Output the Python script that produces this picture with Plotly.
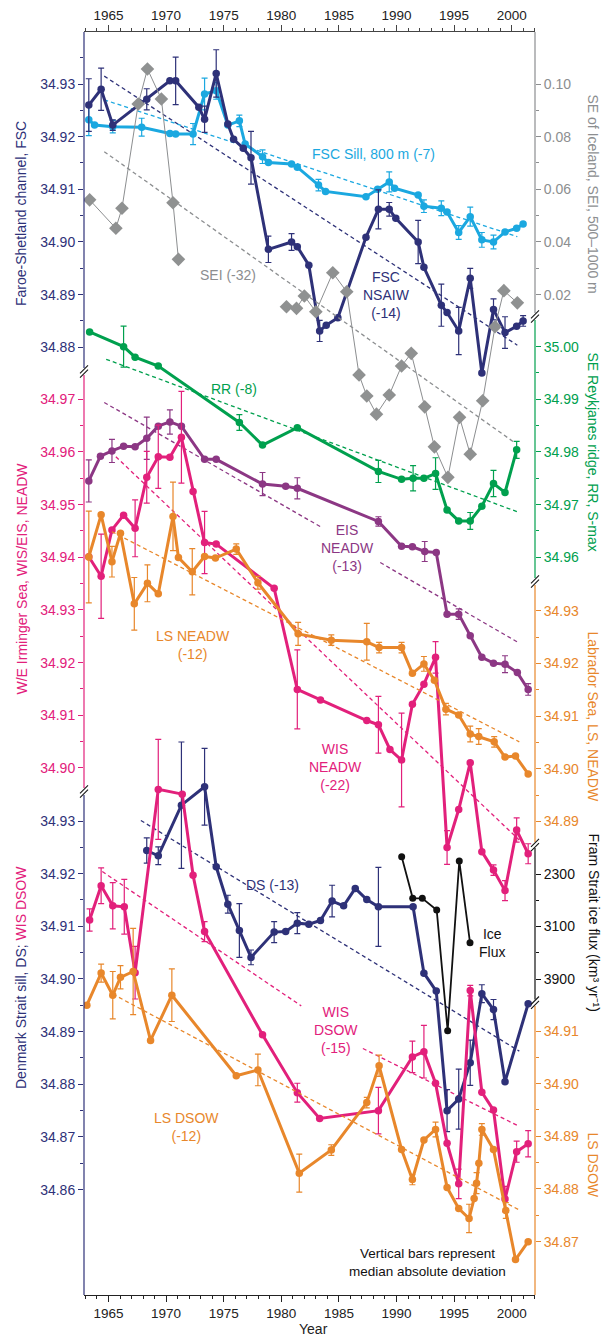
import plotly.graph_objects as go

# ---------------- data ----------------
fsc_years = [1963.29, 1964.36, 1965.37, 1968.32, 1970.33, 1970.83, 1972.84, 1973.34, 1974.35, 1975.36, 1975.86, 1976.70,
             1977.37, 1978.88, 1980.89, 1981.39, 1982.39, 1983.33, 1983.90, 1984.91, 1987.35, 1988.43, 1989.37, 1989.94,
             1991.88, 1992.38, 1993.89, 1994.39, 1995.40, 1996.40, 1997.41, 1998.42, 1999.42, 2000.43, 2000.99]
fsc_vals = [34.926, 34.929, 34.9222, 34.9271, 34.9306, 34.9306, 34.9256, 34.9233, 34.932, 34.9224, 34.9195, 34.9178,
            34.916, 34.8986, 34.900, 34.8991, 34.8956, 34.8831, 34.8842, 34.8856, 34.9009, 34.9062, 34.9062, 34.9045,
            34.900, 34.8952, 34.888, 34.8866, 34.8831, 34.8931, 34.8751, 34.8872, 34.8828, 34.884, 34.885]
fsc_err = [0.005, 0.004, 0.001, 0.002, None, 0.0045, None, 0.0025, 0.0045, None, None, None, 0.005, 0.0025, 0.0016,
           None, None, 0.002, None, None, None, 0.0037, 0.0013, None, 0.0041, None, 0.004, None, 0.0045, 0.0019, None,
           0.002, 0.003, None, 0.001]

sill_years = [1963.29, 1963.79, 1965.37, 1967.88, 1970.33, 1970.83, 1972.34, 1973.34, 1974.35, 1975.36, 1976.36, 1976.86,
              1978.37, 1978.88, 1980.89, 1981.39, 1983.23, 1983.84, 1987.35, 1988.36, 1989.37, 1989.83, 1991.88, 1992.38,
              1993.89, 1994.39, 1995.40, 1996.40, 1997.41, 1998.42, 1999.42, 2000.43, 2000.99]
sill_vals = [34.9232, 34.9222, 34.9219, 34.9218, 34.9206, 34.9205, 34.9205, 34.9281, 34.9287, 34.9222, 34.923, 34.9186,
             34.9162, 34.9151, 34.9148, 34.9142, 34.9108, 34.9096, 34.9086, 34.910, 34.9114, 34.9102, 34.9089, 34.9068,
             34.9064, 34.9057, 34.9018, 34.9048, 34.9004, 34.900, 34.9019, 34.9026, 34.9034]
sill_err = [0.003, None, 0.0012, 0.0017, None, None, 0.002, 0.003, 0.0016, None, 0.0011, None, 0.0013, None, None, None,
            0.0011, None, None, None, 0.0019, None, None, 0.0012, 0.0014, None, 0.0013, 0.0018, 0.0014, 0.0013, None,
            None, None]

sei_years = [1963.36, 1965.64, 1966.17, 1967.58, 1968.38, 1969.59, 1970.60, 1971.07, None, 1980.45, 1981.32, 1982.00,
             1983.00, 1984.47, 1985.68, 1986.75, 1987.42, 1988.26, 1989.37, 1990.44, 1991.28, 1992.45, 1993.29, 1994.46,
             1995.47, 1996.40, 1997.48, 1998.55, 1999.32, 2000.49]
sei_vals = [0.056, 0.0452, 0.0528, 0.0924, 0.1057, 0.0943, 0.0549, 0.0334, None, 0.0154, 0.0148, 0.0195, 0.0135,
            0.0283, 0.0211, -0.0105, -0.0185, -0.0254, -0.0181, -0.0071, -0.0023, -0.0226, -0.0378, -0.0494, -0.0266,
            -0.0406, -0.0203, 0.0078, 0.0215, 0.0169]

rr_years = [1963.36, 1966.31, 1967.31, 1969.32, 1976.36, 1978.37, 1981.39, 1988.43, 1990.44, 1991.44, 1992.38, 1993.39,
            1994.39, 1995.40, 1996.40, 1997.41, 1998.42, 1999.42, 2000.43]
rr_vals = [35.0028, 35.0, 34.998, 34.9963, 34.9856, 34.9813, 34.9846, 34.9763, 34.9748, 34.975, 34.975, 34.9759,
           34.969, 34.9669, 34.9669, 34.9697, 34.974, 34.9723, 34.9804]
rr_err = [None, 0.0039, None, None, 0.0015, None, None, 0.0021, None, 0.0024, None, 0.003, None, None, 0.0016, None,
          0.0025, None, 0.0016]

eis_years = [1963.29, 1964.30, 1965.30, 1966.31, 1967.31, 1968.32, 1969.32, 1970.33, 1971.33, 1973.34, 1974.35, 1978.37,
             1980.38, 1981.39, 1988.43, 1990.44, 1991.38, 1992.45, 1993.45, 1994.39, 1995.40, 1996.40, 1997.41, 1998.42,
             1999.42, 2000.49, 2001.43]
eis_vals = [34.9545, 34.9592, 34.9602, 34.9611, 34.961, 34.9626, 34.9649, 34.9657, 34.9649, 34.9586, 34.9586, 34.9539,
            34.9535, 34.9531, 34.9468, 34.9421, 34.942, 34.9411, 34.9409, 34.9292, 34.9292, 34.9251, 34.921, 34.9199,
            34.9197, 34.9181, 34.9149]
eis_err = [0.004, None, 0.0022, None, None, 0.004, None, 0.0023, None, None, None, 0.0022, None, 0.002, 0.0009, None,
           None, 0.0019, None, None, 0.001, None, None, None, 0.0016, None, 0.0011]

wisn_years = [1963.29, 1964.36, 1965.30, 1966.31, 1967.31, 1968.32, 1969.32, 1970.33, 1971.33, 1972.34, 1973.34, 1974.35,
              1979.38, 1981.39, 1983.40, 1987.42, 1988.43, 1989.43, 1990.44, 1991.38, 1992.38, 1993.39, 1994.39, 1995.40,
              1996.40, 1997.41, 1998.42, 1999.42, 2000.43, 2001.43]
wisn_vals = [34.9401, 34.9364, 34.9452, 34.948, 34.9455, 34.9552, 34.9591, 34.959, 34.9628, 34.9525, 34.9428, 34.9425,
             34.9341, 34.9149, 34.9129, 34.909, 34.9082, 34.9035, 34.9015, 34.9121, 34.9159, 34.921, 34.8849, 34.8921,
             34.901, 34.8841, 34.8806, 34.8767, 34.8882, 34.8837]
wisn_err = [None, 0.008, None, None, 0.0054, 0.0049, 0.006, None, 0.0087, None, 0.0059, None, None, 0.0075, None, None,
            0.0054, None, 0.0089, None, None, 0.003, 0.0032, None, None, None, 0.001, 0.0019, 0.0023, 0.0019]

lsn_years = [1963.29, 1964.36, 1965.30, 1966.04, 1967.24, 1968.38, 1969.32, 1970.60, 1971.07, 1972.27, 1973.34, 1974.28,
             1976.09, 1977.97, 1981.46, 1984.34, 1987.42, 1988.49, 1990.44, 1991.38, 1992.38, 1993.29, 1994.29, 1995.40,
             1996.40, 1997.14, 1998.48, 1999.42, 2000.33, 2001.43]
lsn_vals = [34.9402, 34.9482, 34.9393, 34.9447, 34.9313, 34.9352, 34.9332, 34.9479, 34.9401, 34.9374, 34.9403, 34.9400,
            34.9417, 34.9353, 34.9256, 34.9244, 34.9241, 34.9230, 34.9230, 34.9181, 34.9199, 34.9168, 34.9113, 34.9102,
            34.9066, 34.9061, 34.9051, 34.9022, 34.9024, 34.8990]
lsn_err = [0.0087, None, 0.0029, None, 0.005, 0.0035, None, 0.0065, None, 0.0044, None, None, 0.001, 0.0012, 0.0022,
           0.001, 0.0035, 0.001, 0.001, None, 0.0014, None, 0.0011, None, 0.0015, 0.0015, 0.001, None, None, None]

ds_years = [1968.32, 1969.32, 1971.33, 1973.34, 1974.35, 1975.36, 1976.36, 1977.37, 1979.38, 1980.38, 1981.39, 1982.39,
            1983.40, 1984.41, 1985.41, 1986.42, 1987.42, 1988.43, 1991.44, 1992.38, 1993.45, 1994.39, 1995.40, 1996.40,
            1997.41, 1998.42, 1999.42, 2001.43]
ds_vals = [34.9244, 34.9234, 34.933, 34.9365, 34.9213, 34.9142, 34.9092, 34.9041, 34.9089, 34.909, 34.9106, 34.9104,
           34.9111, 34.9148, 34.9139, 34.9172, 34.9151, 34.9137, 34.9137, 34.9011, 34.8977, 34.875, 34.8772, 34.8841,
           34.8972, 34.8942, 34.8805, 34.8953]
ds_err = [0.0024, 0.0017, 0.012, 0.0073, None, 0.0017, 0.0051, 0.0014, 0.002, None, 0.002, None, None, 0.003, None,
          None, None, 0.0075, None, None, None, 0.004, 0.0057, 0.0043, 0.0017, 0.0019, None, None]

wisd_years = [1963.36, 1964.36, 1965.37, 1966.37, 1967.31, 1969.32, 1971.40, 1972.34, 1973.34, 1978.37, 1981.39, 1983.33,
              1988.43, 1991.38, 1992.38, 1993.39, 1994.39, 1995.40, 1996.40, 1997.41, 1998.42, 1999.42, 2000.43, 2001.43]
wisd_vals = [34.9112, 34.9177, 34.9139, 34.9137, 34.9012, 34.936, 34.9351, 34.9197, 34.909, 34.8894, 34.8784, 34.8735,
             34.875, 34.8852, 34.8862, 34.8802, 34.8688, 34.8611, 34.8978, 34.8785, 34.8751, 34.8582, 34.8672, 34.8687]
wisd_err = [0.0021, 0.0034, 0.0044, 0.0052, 0.005, 0.0095, None, None, 0.0019, None, 0.0018, None, 0.0044, 0.003,
            0.005, None, None, 0.0028, 0.001, None, None, 0.0024, 0.002, 0.0025]

lsd_years = [1963.12, 1964.36, 1965.37, 1966.04, 1967.14, 1968.65, 1970.50, 1976.09, 1977.97, 1981.56, 1984.34, 1987.42,
             1988.49, 1990.44, 1991.38, 1992.38, 1993.39, 1994.39, 1995.40, 1996.30, 1996.74, 1996.95, 1997.15, 1997.41,
             1998.42, 1999.49, 2000.33, 2001.43]
lsd_vals = [34.9149, 34.921, 34.9168, 34.9202, 34.9213, 34.9082, 34.9168, 34.9015, 34.9026, 34.883, 34.8874, 34.8964,
            34.9034, 34.8875, 34.8818, 34.8893, 34.8913, 34.8803, 34.8763, 34.8744, 34.8782, 34.8811, 34.8849, 34.8913,
            34.8875, 34.8759, 34.8666, 34.87]
lsd_err = [None, 0.0017, 0.0045, 0.0022, 0.0082, None, 0.005, None, 0.003, 0.0036, 0.001, 0.001, 0.002, None, 0.001,
           None, 0.0014, None, None, 0.0027, None, 0.002, None, 0.0011, None, 0.0015, None, None]

ice_years = [1990.45, 1991.41, 1992.24, 1993.49, 1994.44, 1995.45, 1996.38]
ice_vals = [2036, 2670, 2670, 2849, 4688, 2102, 3347]

# trend lines (end points)
fsc_trend_x, fsc_trend_y = [1964.63, 2000.49], [34.9315, 34.8804]
sill_trend_x, sill_trend_y = [1964.63, 2000.49], [34.927, 34.901]
sei_trend_x, sei_trend_y = [1964.63, 2000.16], [0.0743, -0.0359]
rr_trend_x, rr_trend_y = [1964.8, 2000.66], [34.9976, 34.9685]
eis_trend_x, eis_trend_y = [1964.63, 1983.4, None, 1988.59, 2000.66], [34.9694, 34.9458, None, 34.939, 34.9237]
wisn_trend_x, wisn_trend_y = [1965.64, 2000.66], [34.9591, 34.8863]
lsn_trend_x, lsn_trend_y = [1965.3, 2000.66], [34.945, 34.9051]
ds_trend_x, ds_trend_y = [1967.81, 2000.66], [34.9301, 34.8863]
wisd_trend_x, wisd_trend_y = [1964.46, 1981.73, None, 1987.08, 2000.66], [34.9204, 34.8949, None, 34.8868, 34.872]
lsd_trend_x, lsd_trend_y = [1965.37, 2000.66], [34.917, 34.876]

year_ticks = [1965, 1970, 1975, 1980, 1985, 1990, 1995, 2000]
year_minor = list(range(1963, 2003))

# ---------------- styling ----------------
NAVY = "#2E3178"
CYAN = "#1BA8E0"
GRAY = "#8C8E90"
GREEN = "#00A04E"
PURPLE = "#8C3784"
PINK = "#E2207B"
ORANGE = "#E8872B"
BLACK = "#111111"
FONT = "Liberation Sans, Arial, Helvetica, sans-serif"

W, H = 606, 1338
L, R, T, B = 84, 535, 32, 1295
X_RANGE = [1965 - (108.5 - L) / 11.52, 1965 + (R - 108.5) / 11.52]


def yrange(v, py, k):
    return [v - (B - py) / k, v + (py - T) / k]


def px2paper(px, py):
    return (px - L) / (R - L), (B - py) / (B - T)


fig = go.Figure()


def trend(x, y, color, yaxis):
    fig.add_trace(go.Scatter(x=x, y=y, mode="lines", yaxis=yaxis, showlegend=False, hoverinfo="skip",
                             line=dict(color=color, width=1.3, dash="4px,3px")))


def series(x, y, err, color, yaxis, width=3, size=7.5):
    fig.add_trace(go.Scatter(
        x=x, y=y, mode="lines+markers", yaxis=yaxis, showlegend=False,
        line=dict(color=color, width=width), marker=dict(color=color, size=size),
        error_y=dict(type="data", array=[e if e is not None else 0 for e in err], visible=True,
                     color=color, thickness=1.2, width=3)))


trend(fsc_trend_x, fsc_trend_y, NAVY, "y")
trend(sill_trend_x, sill_trend_y, CYAN, "y")
trend(sei_trend_x, sei_trend_y, GRAY, "y2")
trend(rr_trend_x, rr_trend_y, GREEN, "y4")
trend(eis_trend_x, eis_trend_y, PURPLE, "y3")
trend(wisn_trend_x, wisn_trend_y, PINK, "y3")
trend(lsn_trend_x, lsn_trend_y, ORANGE, "y5")
trend(ds_trend_x, ds_trend_y, NAVY, "y6")
trend(wisd_trend_x, wisd_trend_y, PINK, "y6")
trend(lsd_trend_x, lsd_trend_y, ORANGE, "y8")

fig.add_trace(go.Scatter(x=sei_years, y=sei_vals, mode="lines+markers", yaxis="y2", showlegend=False,
                         connectgaps=False, line=dict(color=GRAY, width=1),
                         marker=dict(symbol="diamond", size=10.5, color="#8F9191")))
series(sill_years, sill_vals, sill_err, CYAN, "y")
series(fsc_years, fsc_vals, fsc_err, NAVY, "y")
series(rr_years, rr_vals, rr_err, GREEN, "y4")
series(eis_years, eis_vals, eis_err, PURPLE, "y3")
series(lsn_years, lsn_vals, lsn_err, ORANGE, "y5")
series(wisn_years, wisn_vals, wisn_err, PINK, "y3")
series(ds_years, ds_vals, ds_err, NAVY, "y6")
series(lsd_years, lsd_vals, lsd_err, ORANGE, "y8")
series(wisd_years, wisd_vals, wisd_err, PINK, "y6")
fig.add_trace(go.Scatter(x=ice_years, y=ice_vals, mode="lines+markers", yaxis="y7", showlegend=False,
                         line=dict(color=BLACK, width=1.8), marker=dict(color=BLACK, size=7)))
# empty trace so the top year axis is drawn
fig.add_trace(go.Scatter(x=[], y=[], xaxis="x2", yaxis="y", showlegend=False, hoverinfo="skip"))

TICKF = 14


def yax(rng, side, color, major, labels, minor, overlay=True):
    d = dict(domain=[0, 1], range=rng, side=side, anchor="x", showgrid=False, zeroline=False, showline=False,
             tickmode="array", tickvals=major, ticktext=labels, ticks="outside", ticklen=5, tickwidth=1,
             tickcolor=color, tickfont=dict(color=color, size=TICKF, family=FONT), automargin=False,
             minor=dict(tickmode="array", tickvals=minor, ticks="outside", ticklen=3, tickwidth=1, tickcolor=color))
    if overlay:
        d["overlaying"] = "y"
    return d


def sal(vals):
    return ["%.2f" % v for v in vals]


fsc_t = [34.88, 34.89, 34.90, 34.91, 34.92, 34.93]
sei_t = [0.02, 0.04, 0.06, 0.08, 0.10]
pink_t = [34.90, 34.91, 34.92, 34.93, 34.94, 34.95, 34.96, 34.97]
rr_t = [34.96, 34.97, 34.98, 34.99, 35.00]
lsn_t = [34.89, 34.90, 34.91, 34.92, 34.93]
ds_t = [34.86, 34.87, 34.88, 34.89, 34.90, 34.91, 34.92, 34.93]
ice_t = [2300, 3100, 3900]
lsd_t = [34.87, 34.88, 34.89, 34.90, 34.91]

K = 5266
fig.update_layout(
    width=W, height=H, margin=dict(l=L, r=W - R, t=T, b=H - B), paper_bgcolor="white", plot_bgcolor="white",
    font=dict(family=FONT, size=14, color="#222"), showlegend=False,
    xaxis=dict(range=X_RANGE, anchor="y", showgrid=False, zeroline=False, showline=True, linecolor="#222",
               linewidth=1, tickmode="array", tickvals=year_ticks, ticks="outside", ticklen=6, tickcolor="#222",
               tickfont=dict(size=13.5, color="#222"), automargin=False,
               minor=dict(tickmode="array", tickvals=year_minor, ticks="outside", ticklen=3, tickcolor="#222")),
    xaxis2=dict(range=X_RANGE, overlaying="x", side="top", anchor="y", showgrid=False, zeroline=False,
                showline=True, linecolor="#444", linewidth=1, tickmode="array", tickvals=year_ticks,
                ticks="outside", ticklen=6, tickcolor="#444", tickfont=dict(size=13.5, color="#222"),
                automargin=False,
                minor=dict(tickmode="array", tickvals=year_minor, ticks="outside", ticklen=3, tickcolor="#444")),
    yaxis=yax(yrange(34.93, 84, K), "left", NAVY, fsc_t, sal(fsc_t),
              [34.885, 34.895, 34.905, 34.915, 34.925, 34.935], overlay=False),
    yaxis2=yax(yrange(0.10, 84, K / 2), "right", GRAY, sei_t, ["%.2f" % v for v in sei_t],
               [0.03, 0.05, 0.07, 0.09]),
    yaxis3=yax(yrange(34.97, 399.3, K), "left", PINK, pink_t, sal(pink_t),
               [34.905, 34.915, 34.925, 34.935, 34.945, 34.955, 34.965]),
    yaxis4=yax(yrange(34.99, 399.3, K), "right", GREEN, rr_t, sal(rr_t),
               [34.965, 34.975, 34.985, 34.995]),
    yaxis5=yax(yrange(34.93, 610.7, K), "right", ORANGE, lsn_t, sal(lsn_t),
               [34.895, 34.905, 34.915, 34.925]),
    yaxis6=yax(yrange(34.93, 821, K), "left", NAVY, ds_t, sal(ds_t),
               [34.865, 34.875, 34.885, 34.895, 34.905, 34.915, 34.925]),
    yaxis7=yax(yrange(2300, 874, -52.5 / 800), "right", BLACK, ice_t, [str(v) for v in ice_t], [2700, 3500]),
    yaxis8=yax(yrange(34.91, 1031, K), "right", ORANGE, lsd_t, sal(lsd_t),
               [34.875, 34.885, 34.895, 34.905]),
)

# axis line segments (coloured per panel) and break marks
shapes = []
for side, segs in (("left", [(32, 368, NAVY), (375, 788, PINK), (795, 1295, NAVY)]),
                   ("right", [(32, 313, GRAY), (320, 578, GREEN), (585, 842, ORANGE), (848, 999.5, BLACK),
                              (1006, 1295, ORANGE)])):
    xp = L if side == "left" else R
    for y0, y1, c in segs:
        a = px2paper(xp, y0)
        b = px2paper(xp, y1)
        shapes.append(dict(type="line", xref="paper", yref="paper", x0=a[0], y0=a[1], x1=b[0], y1=b[1],
                           line=dict(color=c, width=1.2)))
for xp, yb in ((L, 371.5), (L, 791.5), (R, 316.5), (R, 581.5), (R, 845), (R, 1002.7)):
    for d in (-2.2, 2.2):
        a = px2paper(xp - 4, yb + d + 4)
        b = px2paper(xp + 4, yb + d - 4)
        shapes.append(dict(type="line", xref="paper", yref="paper", x0=a[0], y0=a[1], x1=b[0], y1=b[1],
                           line=dict(color=BLACK, width=1.1)))
fig.update_layout(shapes=shapes)

ann = []


def label(text, x, y, yref, color, size=14, xanchor="center"):
    ann.append(dict(text=text, x=x, y=y, xref="x", yref=yref, showarrow=False, xanchor=xanchor,
                    font=dict(color=color, size=size, family=FONT)))


label("FSC Sill, 800 m (-7)", 1988.0, 34.9167, "y", CYAN)
label("SEI (-32)", 1975.4, 0.0275, "y2", GRAY)
label("FSC<br>NSAIW<br>(-14)", 1989.1, 34.8899, "y", NAVY)
label("RR (-8)", 1975.9, 34.9919, "y4", GREEN)
label("EIS<br>NEADW<br>(-13)", 1985.75, 34.9417, "y3", PURPLE)
label("LS NEADW<br>(-12)", 1972.3, 34.9234, "y5", ORANGE)
label("WIS<br>NEADW<br>(-22)", 1984.74, 34.9002, "y3", PINK)
label("DS (-13)", 1979.2, 34.9178, "y6", NAVY)
label("Ice<br>Flux", 1996.95, 3344, "y7", BLACK, xanchor="left")
label("WIS<br>DSOW<br>(-15)", 1984.74, 34.8903, "y6", PINK)
label("LS DSOW<br>(-12)", 1971.74, 34.8918, "y8", ORANGE)
label("Vertical bars represent<br>median absolute deviation", 1992.7, 34.866, "y8", BLACK, size=13.5)


def title(text, px, py, color, angle):
    xp, yp = px2paper(px, py)
    ann.append(dict(text=text, x=xp, y=yp, xref="paper", yref="paper", showarrow=False, textangle=angle,
                    xanchor="center", yanchor="middle", font=dict(color=color, size=14, family=FONT)))


title("Faroe-Shetland channel, FSC", 21, 214, NAVY, -90)
title("W/E Irminger Sea, WIS/EIS, NEADW", 21, 578.5, PINK, -90)
title("Denmark Strait sill, DS; <span style='color:%s'>WIS DSOW</span>" % PINK, 21, 978, NAVY, -90)
title("SE of Iceland, SEI, 500–1000 m", 593, 193.5, GRAY, 90)
title("SE Reykjanes ridge, RR, S-max", 593, 451.5, GREEN, 90)
title("Labrador Sea, LS, NEADW", 593, 716.5, ORANGE, 90)
title("Fram Strait ice flux (km³ yr⁻¹)", 593, 922.5, BLACK, 90)
title("LS DSOW", 593, 1164.5, ORANGE, 90)
title("Year", 313.5, 1329, "#222", 0)

fig.update_layout(annotations=ann)
fig.write_html("out.html", config={"displayModeBar": False},
               post_script="document.body.style.margin='0px';document.body.style.overflow='hidden';")
